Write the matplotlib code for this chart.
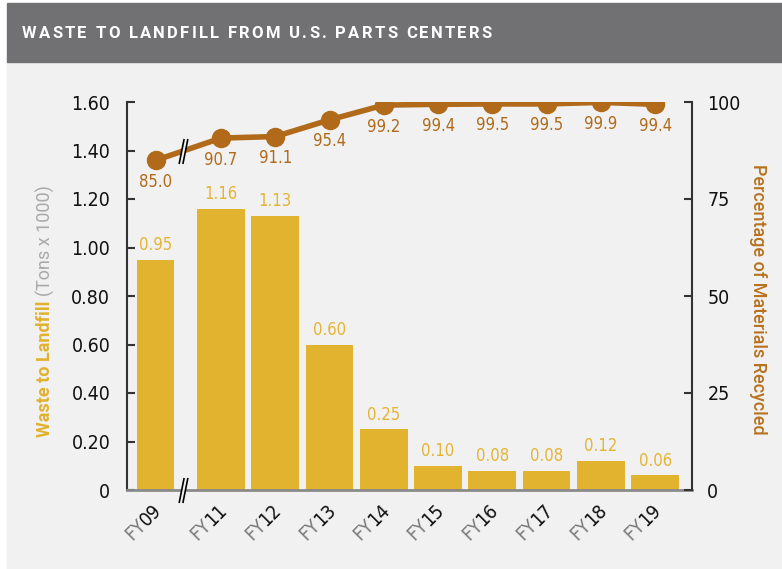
import numpy as np
import matplotlib
matplotlib.use("Agg")
import matplotlib.pyplot as plt
from matplotlib.patches import Rectangle
from matplotlib.path import Path
from matplotlib import font_manager

# data
years = ["09", "11", "12", "13", "14", "15", "16", "17", "18", "19"]
waste = [0.95, 1.16, 1.13, 0.60, 0.25, 0.10, 0.08, 0.08, 0.12, 0.06]
recycled = [85.0, 90.7, 91.1, 95.4, 99.2, 99.4, 99.5, 99.5, 99.9, 99.4]
left_ticks = [0, 0.2, 0.4, 0.6, 0.8, 1.0, 1.2, 1.4, 1.6]
left_labels = ["0", "0.20", "0.40", "0.60", "0.80", "1.00", "1.20", "1.40", "1.60"]
right_ticks = [0, 25, 50, 75, 100]

BAR = "#e2b32e"
BAR_TXT = "#e4b434"
LINE = "#b06a19"
BAND = "#717073"
PANEL = "#f1f1f1"

# condensed face for the numbers if there is one
have_cond = any(f.name == "DejaVu Sans" and "condensed" in str(f.stretch)
                for f in font_manager.fontManager.ttflist)
if have_cond:
    NUM = dict(family="DejaVu Sans", fontstretch="condensed")
else:
    NUM = dict(family="Roboto", fontweight="medium")

W, H = 782, 569
fig = plt.figure(figsize=(W / 100, H / 100), dpi=100)
fig.patch.set_facecolor("white")
fig.add_artist(Rectangle((7 / W, 0), 1, 1 - 62 / H, transform=fig.transFigure,
                         color=PANEL, zorder=-10))
fig.add_artist(Rectangle((7 / W, 1 - 62 / H), 1, 59 / H, transform=fig.transFigure,
                         color=BAND, zorder=-10))
renderer = fig.canvas.get_renderer()


def text_width(s, **kw):
    t = fig.text(0, 0, s, **kw)
    w = t.get_window_extent(renderer).width
    t.remove()
    return w


# title with letter spacing
title = "WASTE TO LANDFILL FROM U.S. PARTS CENTERS"
tkw = dict(family="Roboto", fontsize=12, fontweight="bold", color="white")
widths = [text_width(c if c != " " else "i", **tkw) for c in title]
track = (470 - sum(widths)) / (len(title) - 1)
xpos = 22
for c, w in zip(title, widths):
    fig.text(xpos / W, 1 - 33 / H, c, ha="left", va="center", **tkw)
    xpos += w + track

ax = fig.add_axes([127 / W, 1 - 490 / H, (692 - 127) / W, (490 - 102) / H])
ax.set_facecolor("none")

x = np.arange(len(years), dtype=float) - 1.0
x[0] = -1.2
bar_w = np.full(len(years), 0.88)
bar_w[0] = 0.68

ax.bar(x, waste, width=bar_w, color=BAR, zorder=2)
for xi, v in zip(x, waste):
    ax.annotate(f"{v:.2f}", (xi, v), xytext=(0, 4), textcoords="offset points",
                ha="center", va="bottom", color=BAR_TXT, fontsize=12, **NUM)

ax.set_xlim(-1.733, 8.68)
ax.set_ylim(0, 1.6)
ax.set_yticks(left_ticks)
ax.set_yticklabels(left_labels, fontsize=14, color="#111111", **NUM)
ax.set_xticks([])
ax.tick_params(axis="y", direction="in", length=6, width=1.5, color="#333333", pad=12)
for s in ["top", "right"]:
    ax.spines[s].set_visible(False)
ax.spines["left"].set_color("#333333")
ax.spines["left"].set_linewidth(1.5)
ax.spines["bottom"].set_color("#8a8a8a")
ax.spines["bottom"].set_linewidth(2)

# x labels: "FY" in gray, year digits in black, rotated 45 degrees
ex, ey = 5, -15
for xi, d in zip(x, years):
    wd = text_width(d, fontsize=14, **NUM) * 72 / 100
    ax.annotate(d, (xi, 0), xytext=(ex, ey), textcoords="offset points",
                rotation=45, rotation_mode="anchor", ha="right", va="baseline",
                color="#111111", fontsize=14, **NUM)
    ax.annotate("FY", (xi, 0), xytext=(ex - wd * 0.7071, ey - wd * 0.7071),
                textcoords="offset points", rotation=45, rotation_mode="anchor",
                ha="right", va="baseline", color="#7a7a7a", fontsize=14, **NUM)

ax2 = ax.twinx()
ax2.set_ylim(0, 100)
ax2.set_yticks(right_ticks)
ax2.set_yticklabels([str(t) for t in right_ticks], fontsize=14, color="#111111", **NUM)
ax2.tick_params(axis="y", direction="in", length=6, width=1.5, color="#333333", pad=11)
for s in ["top", "left", "bottom"]:
    ax2.spines[s].set_visible(False)
ax2.spines["right"].set_color("#333333")
ax2.spines["right"].set_linewidth(1.5)

ax2.plot(x, recycled, color=LINE, lw=4, marker="o", ms=13, zorder=3)
for xi, v in zip(x, recycled):
    ax2.annotate(f"{v:.1f}", (xi, v), xytext=(0, -9), textcoords="offset points",
                 ha="center", va="top", color=LINE, fontsize=12, **NUM)

# axis break marks
gap = Path([(-0.35, -1), (-0.05, -1), (0.35, 1), (0.05, 1), (-0.35, -1)],
           [Path.MOVETO, Path.LINETO, Path.LINETO, Path.LINETO, Path.CLOSEPOLY])
slashes = Path([(-0.35, -1), (0.05, 1), (-0.05, -1), (0.35, 1)],
               [Path.MOVETO, Path.LINETO, Path.MOVETO, Path.LINETO])
xb = -0.7
yb = np.interp(xb, x, recycled)
for a, yy in [(ax2, yb), (ax, 0)]:
    a.plot([xb], [yy], marker=gap, ms=18, mfc=PANEL, mec="none", zorder=5, clip_on=False)
    a.plot([xb], [yy], marker=slashes, ms=18, mfc="none", mec="black", mew=1.2,
           zorder=6, clip_on=False)

# axis titles
ykw = dict(fontsize=13, family="Roboto")
w1 = text_width("Waste to Landfill", fontweight="bold", **ykw)
fig.text(45 / W, 1 - 437 / H, "Waste to Landfill", rotation=90, rotation_mode="anchor",
         ha="left", va="center", color="#e2b22c", fontweight="bold", **ykw)
fig.text(45 / W, 1 - (437 - w1 - 5) / H, "(Tons x 1000)", rotation=90,
         rotation_mode="anchor", ha="left", va="center", color="#a9a9a9", **ykw)
fig.text(758 / W, 1 - 299 / H, "Percentage of Materials Recycled", rotation=-90,
         ha="center", va="center", color="#b8721f", fontweight="medium", **ykw)

fig.savefig("out.png", dpi=100, facecolor=fig.get_facecolor())
